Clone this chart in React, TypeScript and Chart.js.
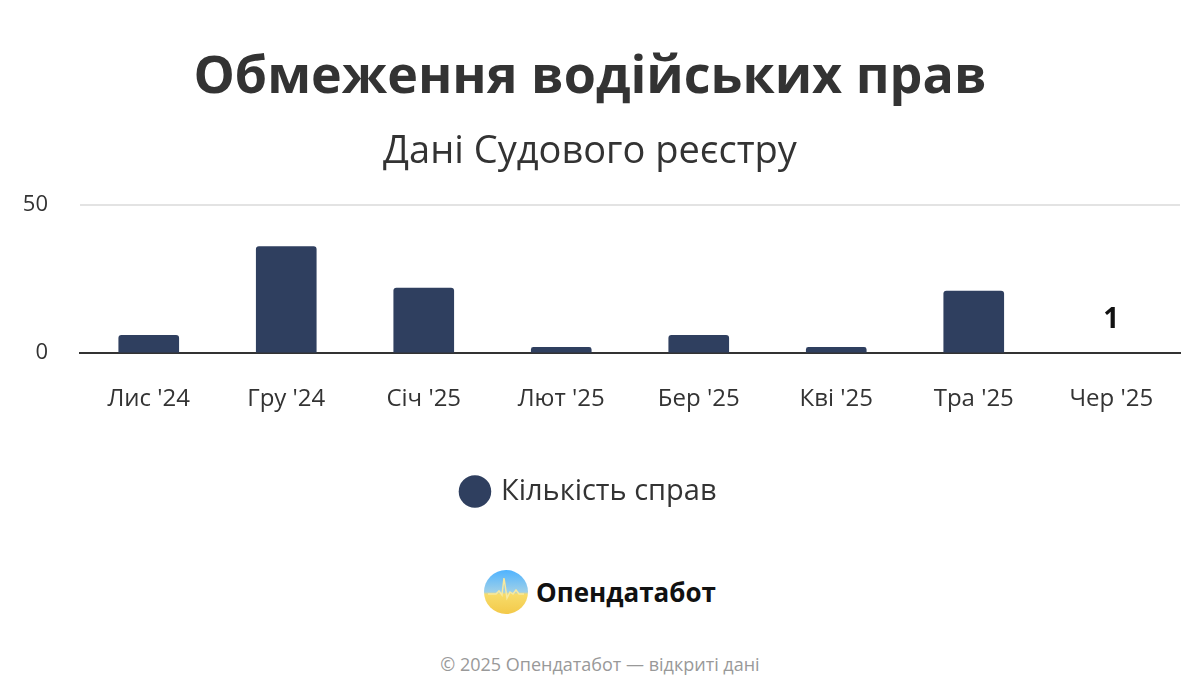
import React, { useEffect, useRef } from "react";
import { Chart, registerables } from "chart.js";

Chart.register(...registerables);

const categories = ["Лис '24", "Гру '24", "Січ '25", "Лют '25", "Бер '25", "Кві '25", "Тра '25", "Чер '25"];
const cases = [6, 36, 22, 2, 6, 2, 21, 1];
const yTicks = [0, 50];
const seriesLabel = "Кількість справ";
const titleText = "Обмеження водійських прав";
const subtitleText = "Дані Судового реєстру";
const footerText = "© 2025 Опендатабот — відкриті дані";
const brandText = "Опендатабот";

const FONT = "'Open Sans', 'Noto Sans', sans-serif";
const BAR = "#2f3f5f";

const lastLabelPlugin = {
  id: "lastLabel",
  afterDatasetsDraw(chart: any) {
    const meta = chart.getDatasetMeta(0);
    const i = cases.length - 1;
    const el = meta.data[i];
    if (!el) return;
    const ctx = chart.ctx;
    ctx.save();
    ctx.font = `bold 28px ${FONT}`;
    ctx.fillStyle = "#111";
    ctx.textAlign = "center";
    ctx.textBaseline = "middle";
    ctx.fillText(String(cases[i]), el.x, el.y - 30);
    ctx.restore();
  },
};

export default function App() {
  const ref = useRef<HTMLCanvasElement>(null);
  useEffect(() => {
    if (!ref.current) return;
    const chart = new Chart(ref.current, {
      type: "bar",
      data: {
        labels: categories,
        datasets: [
          {
            label: seriesLabel,
            data: cases,
            backgroundColor: cases.map((_, i) => (i === cases.length - 1 ? "rgba(0,0,0,0)" : BAR)),
            borderRadius: 3,
            borderSkipped: "start",
            barThickness: 60,
          },
        ],
      },
      options: {
        animation: false,
        responsive: true,
        maintainAspectRatio: false,
        layout: { padding: { left: 0, right: 20, top: 0, bottom: 0 } },
        plugins: {
          title: {
            display: true,
            text: titleText,
            color: "#333",
            font: { family: FONT, size: 52, weight: "bold", lineHeight: 1.2 },
            padding: { top: 47, bottom: 20 },
          },
          subtitle: {
            display: true,
            text: subtitleText,
            color: "#333",
            font: { family: FONT, size: 38, weight: "normal", lineHeight: 1.2 },
            padding: { top: 0, bottom: 30 },
          },
          legend: {
            position: "bottom",
            labels: {
              usePointStyle: true,
              pointStyle: "circle",
              boxHeight: 23,
              boxWidth: 23,
              color: "#333",
              font: { family: FONT, size: 29 },
              padding: 39,
            },
          },
          tooltip: { enabled: false },
        },
        scales: {
          x: {
            grid: { display: false },
            border: { display: true, color: "#333", width: 2 },
            ticks: { color: "#333", font: { family: FONT, size: 24 }, padding: 24, maxRotation: 0 },
          },
          y: {
            min: 0,
            max: 50,
            afterBuildTicks: (axis: any) => {
              axis.ticks = yTicks.map((v) => ({ value: v }));
            },
            afterFit: (axis: any) => {
              axis.width = 80;
            },
            grid: {
              color: (c: any) => (c.tick && c.tick.value === 0 ? "rgba(0,0,0,0)" : "#e3e3e3"),
              lineWidth: 2,
              drawTicks: false,
            },
            border: { display: false },
            ticks: { color: "#333", font: { family: FONT, size: 22 }, padding: 32 },
          },
        },
      },
      plugins: [lastLabelPlugin],
    });
    return () => chart.destroy();
  }, []);

  return (
    <div
      style={{
        position: "absolute",
        left: 0,
        top: 0,
        width: 1200,
        height: 700,
        background: "#fff",
        fontFamily: FONT,
      }}
    >
      <div style={{ position: "absolute", left: 0, top: 0, width: 1200, height: 516 }}>
        <canvas ref={ref} />
      </div>
      <div
        style={{
          position: "absolute",
          left: 0,
          top: 568,
          width: 1200,
          height: 48,
          display: "flex",
          justifyContent: "center",
          alignItems: "center",
          gap: 8,
        }}
      >
        <svg width="44" height="44" viewBox="0 0 44 44">
          <defs>
            <linearGradient id="lg" x1="0" y1="0" x2="0" y2="1">
              <stop offset="0" stopColor="#4fb3ff" />
              <stop offset="0.5" stopColor="#9fd0e8" />
              <stop offset="0.55" stopColor="#f7dc6a" />
              <stop offset="1" stopColor="#f3c94a" />
            </linearGradient>
          </defs>
          <circle cx="22" cy="22" r="22" fill="url(#lg)" />
          <polyline
            points="4,24 12,24 15,21 18,25 20,8 23,28 26,22 29,24 32,20 35,24 40,24"
            fill="none"
            stroke="#f7e9a0"
            strokeWidth="1.5"
          />
        </svg>
        <span style={{ fontSize: 26, fontWeight: 700, color: "#111", letterSpacing: 0 }}>{brandText}</span>
      </div>
      <div
        style={{
          position: "absolute",
          left: 0,
          top: 652,
          width: 1200,
          textAlign: "center",
          fontSize: 18,
          color: "#999",
        }}
      >
        {footerText}
      </div>
    </div>
  );
}
